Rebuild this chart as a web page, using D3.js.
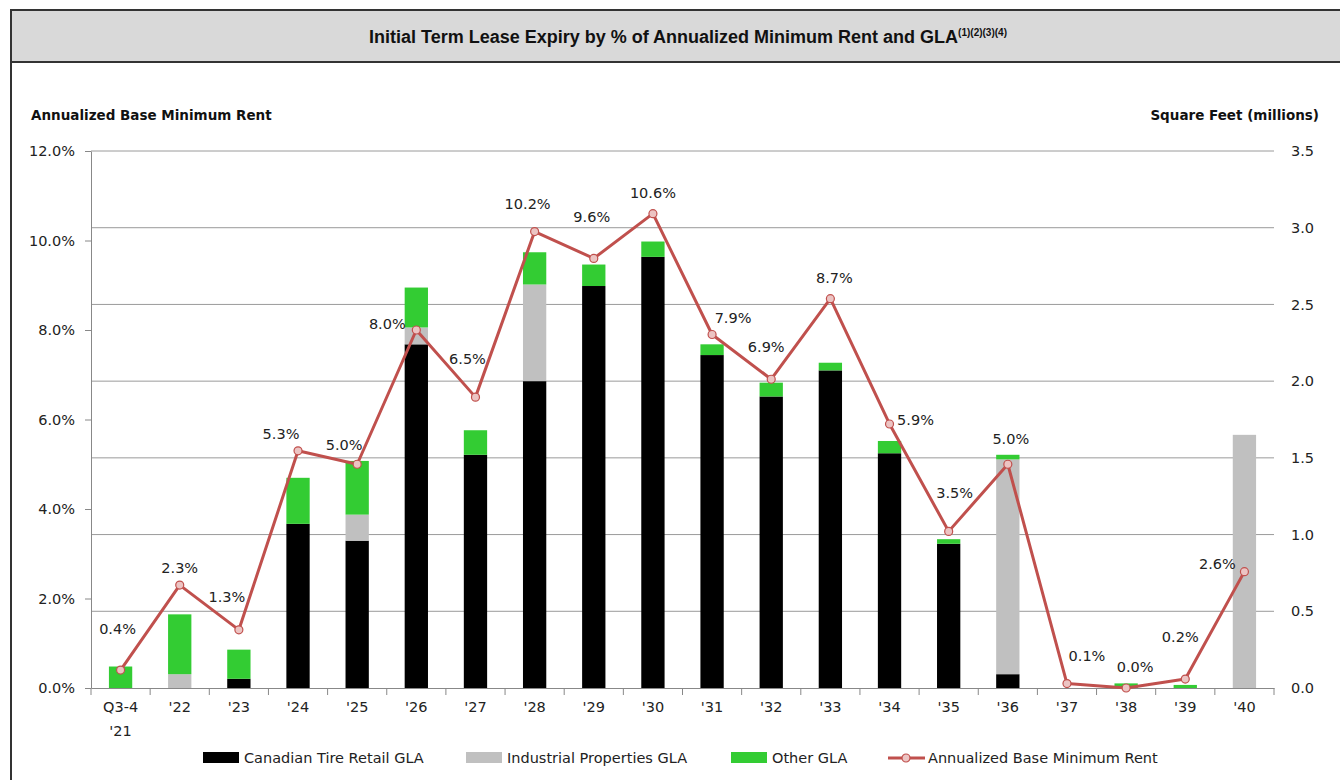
<!DOCTYPE html>
<html>
<head>
<meta charset="utf-8">
<script src="https://cdn.jsdelivr.net/npm/d3@7"></script>
<style>
  body { margin: 0; background: #fff; }
  svg { display: block; }
  .tick text, .lbl { font-family: "DejaVu Sans", sans-serif; font-size: 14.5px; fill: #222; }
  .axtitle { font-family: "DejaVu Sans", sans-serif; font-weight: bold; font-size: 13.5px; fill: #111; }
</style>
</head>
<body>
<div id="chart"></div>
<script>
var width = 1340,
    height = 780

// categories and series (GLA in millions of sq ft, rent in %)
const categories = ["Q3-4 '21", "'22", "'23", "'24", "'25", "'26", "'27", "'28", "'29", "'30",
                    "'31", "'32", "'33", "'34", "'35", "'36", "'37", "'38", "'39", "'40"]
const retailGla     = [0, 0, 0.06, 1.07, 0.96, 2.24, 1.52, 2.00, 2.62, 2.81, 2.17, 1.90, 2.07, 1.53, 0.94, 0.09, 0, 0, 0, 0]
const industrialGla = [0, 0.09, 0, 0, 0.17, 0.11, 0, 0.63, 0, 0, 0, 0, 0, 0, 0, 1.40, 0, 0, 0, 1.65]
const otherGla      = [0.14, 0.39, 0.19, 0.30, 0.35, 0.26, 0.16, 0.21, 0.14, 0.10, 0.07, 0.09, 0.05, 0.08, 0.03, 0.03, 0, 0.03, 0.02, 0]
const rentPct       = [0.4, 2.3, 1.3, 5.3, 5.0, 8.0, 6.5, 10.2, 9.6, 10.6, 7.9, 6.9, 8.7, 5.9, 3.5, 5.0, 0.1, 0.0, 0.2, 2.6]
const rentTicks = [0, 2, 4, 6, 8, 10, 12]
const glaTicks  = [0, 0.5, 1.0, 1.5, 2.0, 2.5, 3.0, 3.5]

// where excel put each data label, relative to its point (px)
const labelNudge = [[-3,-41],[0,-17],[-12,-33],[-17,-17],[-13,-19],[-29,-6],[-8,-38],[-7,-28],[-2,-41],[0,-21],
                    [21,-17],[-5,-32],[4,-21],[26,-4],[6,-38],[3,-25],[20,-28],[9,-21],[-5,-42],[-27,-8]]

const keys = ['retail', 'industrial', 'other']
const colors = { retail: '#000000', industrial: '#c0c0c0', other: '#33cc33' }
const lineColor = '#c0504d'

const table = categories.map((c, i) => ({
  cat: c, retail: retailGla[i], industrial: industrialGla[i], other: otherGla[i], rent: rentPct[i]
}))

var svg = d3.select('#chart').append('svg')
  .attr('width', width)
  .attr('height', height)

// frame + title bar
svg.append('rect').attr('x', 11).attr('y', 10).attr('width', 1340).attr('height', 52)
  .attr('fill', '#d9d9d9')
svg.append('line').attr('x1', 10).attr('x2', width).attr('y1', 10).attr('y2', 10)
  .attr('stroke', '#333').attr('stroke-width', 2)
svg.append('line').attr('x1', 10).attr('x2', width).attr('y1', 62).attr('y2', 62)
  .attr('stroke', '#333').attr('stroke-width', 2)
svg.append('line').attr('x1', 11).attr('x2', 11).attr('y1', 10).attr('y2', height)
  .attr('stroke', '#333').attr('stroke-width', 2)

const title = svg.append('text')
  .attr('x', 688).attr('y', 43)
  .attr('text-anchor', 'middle')
  .style('font-family', '"Liberation Sans Narrow", "Liberation Sans", sans-serif')
  .style('font-weight', 'bold').style('font-size', '18px').style('fill', '#111')
title.append('tspan').text('Initial Term Lease Expiry by % of Annualized Minimum Rent and GLA')
title.append('tspan').attr('dy', -7).style('font-size', '10px').text('(1)(2)(3)(4)')

const x = d3.scaleBand().domain(categories).range([91, 1274]).padding(0)
const yL = d3.scaleLinear().domain([0, 12]).range([688, 151])
const yR = d3.scaleLinear().domain([0, 3.5]).range([688, 151])
const barW = x.bandwidth() * 0.394
const cx = d => x(d) + x.bandwidth() / 2

// gridlines follow the right axis
svg.append('g').selectAll('line')
  .data(glaTicks.filter(t => t > 0))
  .enter().append('line')
  .attr('x1', 91).attr('x2', 1274)
  .attr('y1', d => yR(d)).attr('y2', d => yR(d))
  .attr('stroke', '#9a9a9a').attr('stroke-width', 1)

// stacked bars
const series = d3.stack().keys(keys)(table)
svg.append('g').selectAll('g')
  .data(series)
  .enter().append('g')
  .attr('fill', d => colors[d.key])
  .selectAll('rect')
  .data(d => d)
  .enter().append('rect')
  .attr('x', d => cx(d.data.cat) - barW / 2)
  .attr('width', barW)
  .attr('y', d => yR(d[1]))
  .attr('height', d => yR(d[0]) - yR(d[1]))

// left axis
const axL = svg.append('g')
  .attr('transform', 'translate(91,0)')
  .call(d3.axisLeft(yL).tickValues(rentTicks).tickFormat(d => d3.format('.1f')(d) + '%')
    .tickSize(6).tickSizeOuter(0).tickPadding(10))
axL.select('.domain').attr('stroke', '#888')
axL.selectAll('.tick line').attr('stroke', '#888')

// right axis (labels only)
const axR = svg.append('g')
  .attr('transform', 'translate(1274,0)')
  .call(d3.axisRight(yR).tickValues(glaTicks).tickFormat(d3.format('.1f')).tickSize(0).tickPadding(17))
axR.select('.domain').remove()

// x axis
const axX = svg.append('g')
  .attr('transform', 'translate(0,688)')
  .call(d3.axisBottom(x).tickSize(0).tickPadding(14))
axX.select('.domain').attr('stroke', '#888')
axX.selectAll('.tick text').each(function (d) {
  const parts = d.split(' ')
  const t = d3.select(this).text(null)
  parts.forEach((p, i) => t.append('tspan').attr('x', 0).attr('dy', i ? 24 : '0.71em').text(p))
})
svg.append('g').selectAll('line')
  .data(categories.map(c => x(c)).concat([x.range()[1]]))
  .enter().append('line')
  .attr('x1', d => d).attr('x2', d => d)
  .attr('y1', 688).attr('y2', 695)
  .attr('stroke', '#888')

// rent line
const line = d3.line().x(d => cx(d.cat)).y(d => yL(d.rent))
svg.append('path')
  .datum(table)
  .attr('d', line)
  .attr('fill', 'none')
  .attr('stroke', lineColor)
  .attr('stroke-width', 3)
  .attr('stroke-linejoin', 'round')

svg.append('g').selectAll('circle')
  .data(table)
  .enter().append('circle')
  .attr('cx', d => cx(d.cat)).attr('cy', d => yL(d.rent)).attr('r', 4)
  .attr('fill', '#ecc4c3').attr('stroke', lineColor).attr('stroke-width', 1.2)

svg.append('g').selectAll('text')
  .data(table)
  .enter().append('text')
  .attr('class', 'lbl')
  .attr('x', (d, i) => cx(d.cat) + labelNudge[i][0])
  .attr('y', (d, i) => yL(d.rent) + labelNudge[i][1])
  .attr('dy', '0.35em')
  .attr('text-anchor', 'middle')
  .text(d => d3.format('.1f')(d.rent) + '%')

// axis titles
svg.append('text').attr('class', 'axtitle').attr('x', 31).attr('y', 120)
  .text('Annualized Base Minimum Rent')
svg.append('text').attr('class', 'axtitle').attr('x', 1319).attr('y', 120).attr('text-anchor', 'end')
  .text('Square Feet (millions)')

// legend
const legendItems = [
  { name: 'Canadian Tire Retail GLA', key: 'retail', x: 203 },
  { name: 'Industrial Properties GLA', key: 'industrial', x: 466 },
  { name: 'Other GLA', key: 'other', x: 731 },
  { name: 'Annualized Base Minimum Rent', key: 'rent', x: 888 }
]
const lg = svg.append('g').selectAll('g')
  .data(legendItems)
  .enter().append('g')
  .attr('transform', d => 'translate(' + d.x + ',758)')
lg.filter(d => d.key !== 'rent').append('rect')
  .attr('x', 0).attr('y', -6).attr('width', 36).attr('height', 11)
  .attr('fill', d => colors[d.key])
const lgLine = lg.filter(d => d.key === 'rent')
lgLine.append('line').attr('x1', 0).attr('x2', 37).attr('y1', 0).attr('y2', 0)
  .attr('stroke', lineColor).attr('stroke-width', 3)
lgLine.append('circle').attr('cx', 18).attr('cy', 0).attr('r', 4)
  .attr('fill', '#ecc4c3').attr('stroke', lineColor).attr('stroke-width', 1.2)
lg.append('text').attr('class', 'lbl')
  .attr('x', d => d.key === 'rent' ? 40 : 41).attr('dy', '0.35em')
  .text(d => d.name)
</script>
</body>
</html>
